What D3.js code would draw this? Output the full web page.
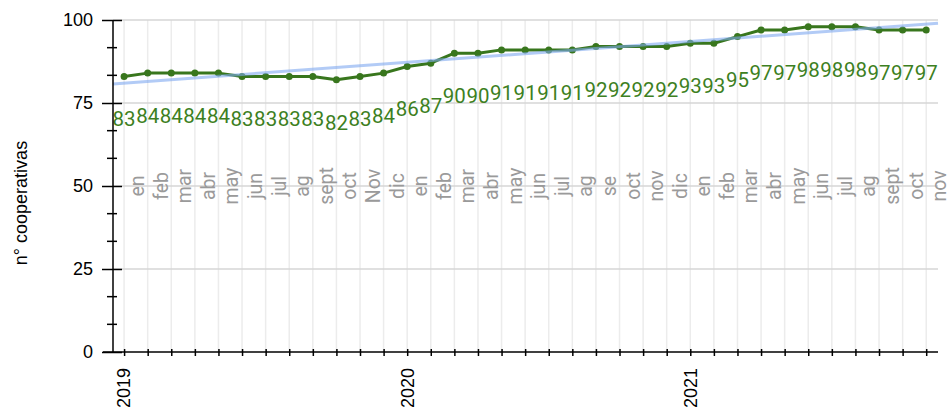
<!DOCTYPE html>
<html>
<head>
<meta charset="utf-8">
<script src="https://cdn.jsdelivr.net/npm/d3@7"></script>
<style>
  body { margin: 0; background: #fff; }
  svg { display: block; }
</style>
</head>
<body>
<svg width="949" height="409"></svg>
<script>
// monthly data, Jan 2019 - Nov 2021
const months = ["en","feb","mar","abr","may","jun","jul","ag","sept","oct","Nov","dic",
                "en","feb","mar","abr","may","jun","jul","ag","se","oct","nov","dic",
                "en","feb","mar","abr","may","jun","jul","ag","sept","oct","nov"];
const values = [83,84,84,84,84,83,83,83,83,82,83,84,
                86,87,90,90,91,91,91,91,92,92,92,92,
                93,93,95,97,97,98,98,98,97,97,97];
const years = [2019, 2020, 2021];
const yTicks = [0, 25, 50, 75, 100];

const green = "#38761d";
const axisFont = "'Liberation Sans', Arial, sans-serif";
const labelFont = "Roboto, 'Noto Sans', sans-serif";

const svg = d3.select("svg");

const plotLeft = 113, plotRight = 938, plotTop = 20, plotBottom = 352;

const x = d3.scaleLinear().domain([-0.47, values.length - 0.5]).range([plotLeft, plotRight]);
const y = d3.scaleLinear().domain([0, 100]).range([plotBottom, plotTop]);

const idx = d3.range(values.length);

// grid
svg.append("g").selectAll("line")
    .data(idx)
    .enter().append("line")
    .attr("x1", d => x(d)).attr("x2", d => x(d))
    .attr("y1", y(100)).attr("y2", y(0))
    .attr("stroke", "#ececec").attr("stroke-width", 1.5);

svg.append("g").selectAll("line")
    .data(yTicks.filter(d => d > 0))
    .enter().append("line")
    .attr("x1", plotLeft).attr("x2", plotRight)
    .attr("y1", d => y(d)).attr("y2", d => y(d))
    .attr("stroke", "#d6d6d6").attr("stroke-width", 1.5);

// month labels
svg.append("g").selectAll("text")
    .data(months)
    .enter().append("text")
    .attr("transform", (d, i) => `translate(${x(i) + 20}, ${y(50)}) rotate(-90)`)
    .attr("text-anchor", "middle")
    .attr("font-family", labelFont)
    .attr("font-size", "19.5px")
    .attr("fill", "#9a9a9a")
    .text(d => d);

// data line
const line = d3.line().x((d, i) => x(i)).y(d => y(d));
svg.append("path")
    .datum(values)
    .attr("fill", "none")
    .attr("stroke", green)
    .attr("stroke-width", 3)
    .attr("stroke-linejoin", "round")
    .attr("d", line);

svg.append("g").selectAll("circle")
    .data(values)
    .enter().append("circle")
    .attr("cx", (d, i) => x(i))
    .attr("cy", d => y(d))
    .attr("r", 3.5)
    .attr("fill", green);

// linear trend (least squares)
const mx = d3.mean(idx), my = d3.mean(values);
const slope = d3.sum(idx, i => (i - mx) * (values[i] - my)) / d3.sum(idx, i => (i - mx) ** 2);
const trend = t => my + slope * (t - mx);
const [t0, t1] = x.domain();
svg.append("line")
    .attr("x1", x(t0)).attr("y1", y(trend(t0)))
    .attr("x2", x(t1)).attr("y2", y(trend(t1)))
    .attr("stroke", "#7fa9f0")
    .attr("stroke-opacity", 0.6)
    .attr("stroke-width", 3);

// value labels
svg.append("g").selectAll("text")
    .data(values)
    .enter().append("text")
    .attr("x", (d, i) => x(i))
    .attr("y", d => y(d) + 50)
    .attr("text-anchor", "middle")
    .attr("font-family", labelFont)
    .attr("font-size", "20.5px")
    .attr("fill", "#3d7f22")
    .text(d => d);

// y axis
const yAxis = svg.append("g")
    .attr("transform", `translate(${plotLeft}, 0)`)
    .call(d3.axisLeft(y).tickValues(yTicks).tickSize(0).tickPadding(20));
yAxis.select(".domain").remove();
yAxis.selectAll(".tick text")
    .attr("font-family", axisFont).attr("font-size", "18px").attr("fill", "#000");
yAxis.selectAll(".tick line")
    .attr("x1", -11).attr("x2", 9).attr("stroke", "#000").attr("stroke-width", 1.5);

const minor = d3.range(0, 100, 25 / 3).filter((d, i) => i % 3 !== 0);
yAxis.selectAll(".minor")
    .data(minor)
    .enter().append("line")
    .attr("class", "minor")
    .attr("x1", -6).attr("x2", 4)
    .attr("y1", d => y(d)).attr("y2", d => y(d))
    .attr("stroke", "#000").attr("stroke-width", 1.5);

yAxis.append("line")
    .attr("y1", plotTop).attr("y2", plotBottom)
    .attr("stroke", "#000").attr("stroke-width", 1.5);

// x axis
const xAxis = svg.append("g")
    .attr("transform", `translate(0, ${plotBottom})`)
    .call(d3.axisBottom(x).tickValues(idx).tickSize(0).tickFormat(""));
xAxis.select(".domain").remove();
xAxis.selectAll(".tick line")
    .attr("y1", -3).attr("y2", 4).attr("stroke", "#000").attr("stroke-width", 1.5);
xAxis.append("line")
    .attr("x1", plotLeft - 10).attr("x2", plotRight)
    .attr("stroke", "#000").attr("stroke-width", 1.5);

xAxis.selectAll(".year")
    .data(years)
    .enter().append("text")
    .attr("class", "year")
    .attr("transform", (d, i) => `translate(${x(i * 12)}, 16) rotate(-90)`)
    .attr("dy", "0.35em")
    .attr("text-anchor", "end")
    .attr("font-family", axisFont)
    .attr("font-size", "18px")
    .attr("fill", "#000")
    .text(d => d);

// axis title
svg.append("text")
    .attr("transform", `translate(27, 203) rotate(-90)`)
    .attr("text-anchor", "middle")
    .attr("font-family", axisFont)
    .attr("font-size", "18px")
    .attr("fill", "#000")
    .text("n° cooperativas");
</script>
</body>
</html>
